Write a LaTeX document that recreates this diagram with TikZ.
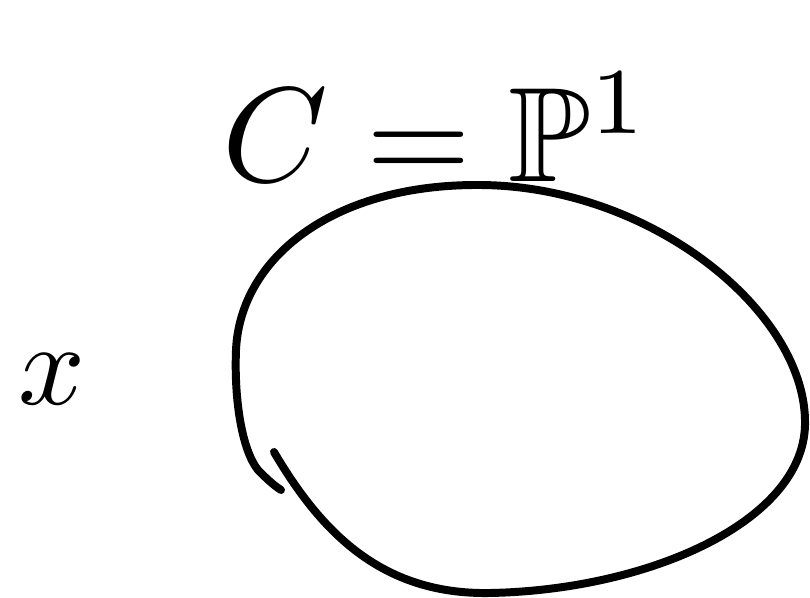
\documentclass[tikz,border=0pt]{standalone}
\usepackage{amssymb}
\begin{document}
\begin{tikzpicture}[x=0.03cm,y=-0.03cm,
  stroke/.style={line width=6.8pt,line cap=round,line join=round},
  bigtext/.style={inner sep=0pt,scale=11.5},
  ptlabel/.style={inner sep=0pt,scale=10}]
\useasboundingbox (0,0) rectangle (810,598);
% curve C
\coordinate (s) at (274,452);
\coordinate (b) at (490,593);
\coordinate (r) at (805,420);
\coordinate (t) at (480,185);
\coordinate (l) at (236,350);
\coordinate (h) at (258,470);
\coordinate (e) at (281,490);
\draw[stroke] (s) .. controls (320,530) and (380,595) .. (b)
  .. controls (650,590) and (808,520) .. (r)
  .. controls (803,310) and (650,186) .. (t)
  .. controls (330,184) and (240,260) .. (l)
  .. controls (234,400) and (242,450) .. (h)
  .. controls (266,478) and (272,484) .. (e);
% label
\node[bigtext,anchor=base west] (lab) at (220,182) {$C=\mathbb{P}^1$};
% point x
\node[ptlabel,anchor=base] (x) at (52,404) {$x$};
\end{tikzpicture}
\end{document}
